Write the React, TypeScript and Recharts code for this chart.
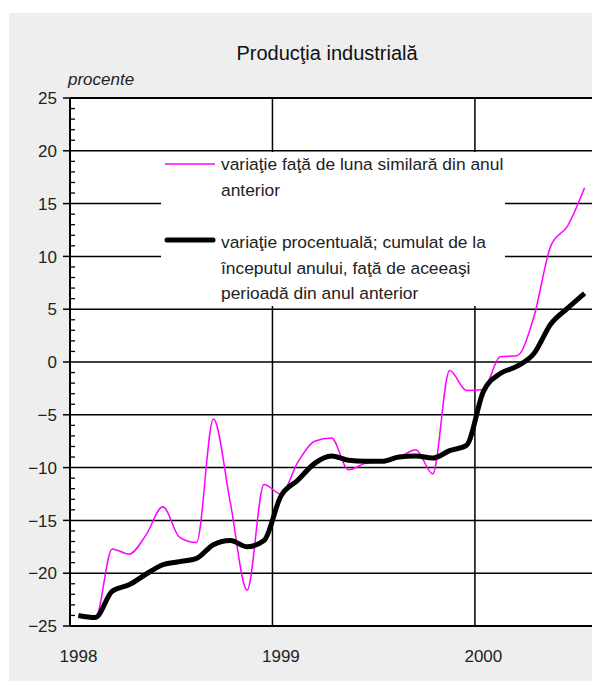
import React from "react";
import {
  CartesianGrid,
  Line,
  LineChart,
  ReferenceLine,
  XAxis,
  YAxis,
} from "recharts";

// monthly values, Jan 1998 .. Jul 2000
const monthlyChange = [
  -24.0, -24.3, -17.7, -18.2, -16.4, -13.7, -16.6, -17.1, -5.4, -13.3, -21.6, -11.6,
  -12.5, -9.5, -7.5, -7.2, -10.2, -9.6, -9.3, -9.0, -8.3, -10.6, -0.8, -2.7,
  -2.6, 0.5, 0.6, 4.3, 11.0, 12.9, 16.5,
];
const cumulativeChange = [
  -24.0, -24.2, -21.7, -21.1, -20.1, -19.2, -18.9, -18.6, -17.3, -16.9, -17.5, -16.9,
  -12.7, -11.2, -9.6, -8.9, -9.3, -9.4, -9.4, -9.0, -8.9, -9.1, -8.4, -7.9,
  -2.8, -1.1, -0.4, 0.8, 3.6, 5.1, 6.5,
];
const yearLabels = ["1998", "1999", "2000"];
const yearStarts = [0, 12, 24];
const majorTicks = [-25, -20, -15, -10, -5, 0, 5, 10, 15, 20, 25];
const gridValues = [-20, -15, -10, -5, 0, 5, 10, 15, 20];

const title = "Producţia industrială";
const unitLabel = "procente";
const legendMonthly = ["variaţie faţă de luna similară din anul", "anterior"];
const legendCumulative = [
  "variaţie procentuală; cumulat de la",
  "începutul anului, faţă de aceeaşi",
  "perioadă din anul anterior",
];

const FONT = '"Liberation Sans", Arial, sans-serif';
const TEXT = "#222";

const chartData = monthlyChange.map((v, i) => ({
  x: i + 0.5,
  monthly: v,
  cumulative: cumulativeChange[i],
}));

const allTicks: number[] = [];
for (let v = -25; v <= 25; v++) allTicks.push(v);

function YTick(props: any) {
  const { x, y, payload } = props;
  const v = payload.value as number;
  if (v % 5 === 0) {
    return (
      <g>
        <line x1={x - 7} x2={x} y1={y} y2={y} stroke="#000" strokeWidth={1.5} />
        <text
          x={x - 13}
          y={y}
          dy="0.36em"
          textAnchor="end"
          fill={TEXT}
          fontSize={17}
          fontFamily={FONT}
        >
          {v < 0 ? "\u2212" + Math.abs(v) : String(v)}
        </text>
      </g>
    );
  }
  return <line x1={x} x2={x + 5} y1={y} y2={y} stroke="#000" strokeWidth={1.3} />;
}

function ChartLegend() {
  const textStyle: React.CSSProperties = {
    position: "absolute",
    left: 60,
    fontSize: 17.4,
    lineHeight: "25.5px",
    color: TEXT,
    whiteSpace: "nowrap",
  };
  return (
    <div
      style={{
        position: "absolute",
        left: 161,
        top: 152,
        width: 344,
        height: 154,
        background: "#fff",
        fontFamily: FONT,
      }}
    >
      <svg width={60} height={154} style={{ position: "absolute", left: 0, top: 0 }}>
        <line x1={4} x2={54} y1={12} y2={12} stroke="#ff00ff" strokeWidth={1.5} />
        <line
          x1={6}
          x2={52}
          y1={88}
          y2={88}
          stroke="#000"
          strokeWidth={5}
          strokeLinecap="round"
        />
      </svg>
      <div style={{ ...textStyle, top: 0 }}>
        {legendMonthly.map((l) => (
          <div key={l}>{l}</div>
        ))}
      </div>
      <div style={{ ...textStyle, top: 78 }}>
        {legendCumulative.map((l) => (
          <div key={l}>{l}</div>
        ))}
      </div>
    </div>
  );
}

export default function App() {
  return (
    <div
      style={{
        position: "relative",
        width: 600,
        height: 681,
        margin: "-8px 0 0 -8px",
        background: "#fff",
        fontFamily: FONT,
      }}
    >
      <div
        style={{
          position: "absolute",
          left: 9,
          top: 13,
          right: 0,
          bottom: 0,
          background: "#eeeeee",
        }}
      />
      <div style={{ position: "absolute", left: 0, top: 0 }}>
        <LineChart
          width={600}
          height={681}
          data={chartData}
          margin={{ top: 98, right: 7, bottom: 15, left: 10 }}
        >
          <CartesianGrid
            fill="#fff"
            stroke="#000"
            strokeWidth={1.5}
            horizontalValues={gridValues}
            verticalValues={[yearStarts[1], yearStarts[2]]}
          />
          <XAxis
            dataKey="x"
            type="number"
            domain={[0, 31]}
            ticks={yearStarts.map((s) => s + 0.5)}
            tickFormatter={(v: number) => yearLabels[Math.round((v - 0.5) / 12)]}
            tickLine={false}
            tickSize={0}
            tickMargin={24}
            height={40}
            axisLine={{ stroke: "#000", strokeWidth: 2 }}
            tick={{ fill: TEXT, fontSize: 17, fontFamily: FONT }}
          />
          <YAxis
            type="number"
            domain={[-25, 25]}
            ticks={allTicks}
            interval={0}
            width={60}
            tickLine={false}
            tickSize={0}
            tickMargin={0}
            axisLine={{ stroke: "#000", strokeWidth: 2 }}
            tick={<YTick />}
          />
          <ReferenceLine y={majorTicks[majorTicks.length - 1]} stroke="#000" strokeWidth={2} />
          <ReferenceLine x={31} stroke="#000" strokeWidth={2} />
          <Line
            type="monotone"
            dataKey="monthly"
            stroke="#ff00ff"
            strokeWidth={1.5}
            dot={false}
            isAnimationActive={false}
          />
          <Line
            type="monotone"
            dataKey="cumulative"
            stroke="#000"
            strokeWidth={5}
            dot={false}
            isAnimationActive={false}
          />
        </LineChart>
      </div>
      <div
        style={{
          position: "absolute",
          left: 227,
          top: 43,
          width: 200,
          textAlign: "center",
          fontSize: 20,
          lineHeight: "20px",
          color: "#111",
          whiteSpace: "nowrap",
        }}
      >
        {title}
      </div>
      <div
        style={{
          position: "absolute",
          left: 68,
          top: 71,
          fontSize: 17,
          lineHeight: "18px",
          fontStyle: "italic",
          color: TEXT,
        }}
      >
        {unitLabel}
      </div>
      <ChartLegend />
    </div>
  );
}
